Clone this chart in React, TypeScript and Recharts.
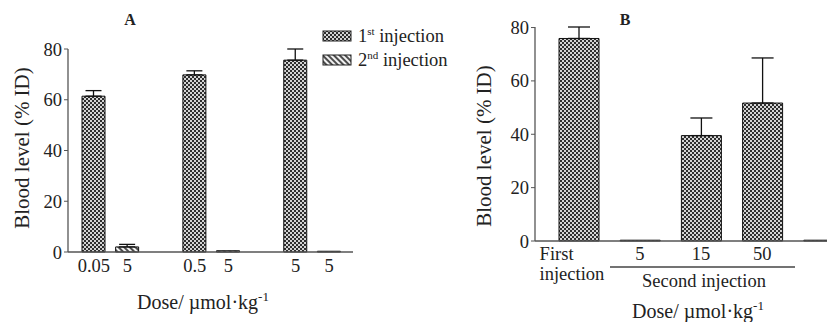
import React from "react";
import { BarChart, Bar, XAxis, YAxis, ErrorBar, Cell } from "recharts";

// Panel A: dose groups (1st / 2nd injection), blank slots separate the groups
const doseLabelsA = ["0.05", "5", "", "0.5", "5", "", "5", "5"];
const meanA = [61.4, 2.0, null, 69.8, 0.5, null, 75.6, 0.3];
const errA = [2.2, 1.0, null, 1.6, null, null, 4.4, null];
const injectionA = [1, 2, 0, 1, 2, 0, 1, 2];

// Panel B: first injection vs second injection doses
const doseLabelsB = ["First\ninjection", "5", "15", "50", ""];
const meanB = [75.9, 0.3, 39.5, 51.7, 0.3];
const errB = [4.3, null, 6.6, 16.9, null];

const yTicks = [0, 20, 40, 60, 80];

const FONT = "'Liberation Serif', 'Times New Roman', serif";
const INK = "#222";
const AXIS = "#555";

const tableA = doseLabelsA.map((label, i) => ({
  key: `a${i}`,
  label,
  value: meanA[i],
  err: errA[i] != null ? [0, errA[i]] : null,
  injection: injectionA[i],
}));

const tableB = doseLabelsB.map((label, i) => ({
  key: `b${i}`,
  label,
  value: meanB[i],
  err: errB[i] != null ? [0, errB[i]] : null,
}));

const tickStyle = { fontFamily: FONT, fontSize: 18.5, fill: INK };

function TickB(props: any) {
  const { x, y, payload } = props;
  const label = tableB.find((d) => d.key === payload.value)?.label ?? "";
  if (label.includes("\n")) {
    const [l1, l2] = label.split("\n");
    return (
      <text x={x - 39} y={y} textAnchor="start" fontFamily={FONT} fontSize={18.5} fill={INK}>
        <tspan x={x - 39} dy="0.71em">{l1}</tspan>
        <tspan x={x - 39} dy="1.05em">{l2}</tspan>
      </text>
    );
  }
  return (
    <text x={x} y={y} dy="0.71em" textAnchor="middle" fontFamily={FONT} fontSize={18.5} fill={INK}>
      {label}
    </text>
  );
}

function DoseTitle({ x, y }: { x: number; y: number }) {
  return (
    <text x={x} y={y} textAnchor="middle" fontFamily={FONT} fontSize={20} fill={INK}>
      Dose/ µmol·kg
      <tspan dy={-8} fontSize={13}>-1</tspan>
    </text>
  );
}

function Overlay() {
  return (
    <svg
      width={827}
      height={322}
      style={{ position: "absolute", left: 0, top: 0, zIndex: 2, pointerEvents: "none" }}
    >
      <defs>
        <pattern id="checker" width={4} height={4} patternUnits="userSpaceOnUse">
          <rect width={4} height={4} fill="#d4d4d4" />
          <rect x={0} y={0} width={2} height={2} fill="#2e2e2e" />
          <rect x={2} y={2} width={2} height={2} fill="#2e2e2e" />
        </pattern>
        <pattern
          id="hatch"
          width={4}
          height={4}
          patternUnits="userSpaceOnUse"
          patternTransform="rotate(-45)"
        >
          <rect width={4} height={4} fill="#f2f2f2" />
          <line x1={1} y1={0} x2={1} y2={4} stroke="#222" strokeWidth={1.6} />
        </pattern>
      </defs>

      {/* panel titles */}
      <text x={130} y={25} textAnchor="middle" fontFamily={FONT} fontWeight="bold" fontSize={16} fill={INK}>
        A
      </text>
      <text x={625} y={25} textAnchor="middle" fontFamily={FONT} fontWeight="bold" fontSize={16} fill={INK}>
        B
      </text>

      {/* y axis titles */}
      <text
        transform="translate(29,148) rotate(-90)"
        textAnchor="middle"
        fontFamily={FONT}
        fontSize={21}
        fill={INK}
      >
        Blood level (% ID)
      </text>
      <text
        transform="translate(491,146) rotate(-90)"
        textAnchor="middle"
        fontFamily={FONT}
        fontSize={21}
        fill={INK}
      >
        Blood level (% ID)
      </text>

      {/* x axis titles */}
      <DoseTitle x={203} y={309} />
      <DoseTitle x={698} y={318} />

      {/* second injection bracket */}
      <line x1={610} y1={267} x2={795} y2={267} stroke="#444" strokeWidth={1.3} />
      <text x={704} y={287} textAnchor="middle" fontFamily={FONT} fontSize={18.5} fill={INK}>
        Second injection
      </text>

      {/* legend */}
      <rect x={323} y={31} width={28} height={10} fill="url(#checker)" stroke="#222" strokeWidth={1} />
      <text x={358} y={42} fontFamily={FONT} fontSize={18.5} fill={INK}>
        1<tspan dy={-7} fontSize={11}>st</tspan>
        <tspan dy={7}> injection</tspan>
      </text>
      <rect x={323} y={55} width={28} height={10} fill="url(#hatch)" stroke="#222" strokeWidth={1} />
      <text x={358} y={66} fontFamily={FONT} fontSize={18.5} fill={INK}>
        2<tspan dy={-7} fontSize={11}>nd</tspan>
        <tspan dy={7}> injection</tspan>
      </text>
    </svg>
  );
}

export default function App() {
  return (
    <div
      style={{
        position: "absolute",
        left: 0,
        top: 0,
        width: 827,
        height: 322,
        overflow: "hidden",
        background: "#fff",
      }}
    >
      <Overlay />

      <div style={{ position: "absolute", left: 0, top: 0 }}>
        <BarChart
          width={380}
          height={322}
          data={tableA}
          margin={{ top: 49, right: 27, bottom: 40, left: 28 }}
          barSize={23}
        >
          <XAxis
            dataKey="key"
            height={30}
            interval={0}
            padding={{ left: 9, right: 7 }}
            tickLine={false}
            tickSize={5}
            tickMargin={2}
            axisLine={{ stroke: AXIS, strokeWidth: 1.3 }}
            tick={tickStyle}
            tickFormatter={(k: string) => tableA.find((d) => d.key === k)?.label ?? ""}
          />
          <YAxis
            width={40}
            domain={[0, 80]}
            ticks={yTicks}
            interval={0}
            tickSize={4}
            tickMargin={2}
            axisLine={{ stroke: AXIS, strokeWidth: 1.3 }}
            tickLine={{ stroke: AXIS }}
            tick={tickStyle}
          />
          <Bar dataKey="value" stroke="#111" strokeWidth={1} isAnimationActive={false}>
            {tableA.map((d) => (
              <Cell key={d.key} fill={d.injection === 2 ? "url(#hatch)" : "url(#checker)"} />
            ))}
            <ErrorBar dataKey="err" width={8} stroke="#111" strokeWidth={1.3} isAnimationActive={false} />
          </Bar>
        </BarChart>
      </div>

      <div style={{ position: "absolute", left: 460, top: 0 }}>
        <BarChart
          width={410}
          height={322}
          data={tableB}
          margin={{ top: 27, right: 6, bottom: 51, left: 35 }}
          barSize={40}
        >
          <XAxis
            dataKey="key"
            height={30}
            interval={0}
            padding={{ left: 13, right: 10 }}
            tickLine={false}
            tickSize={4}
            tickMargin={2}
            axisLine={{ stroke: AXIS, strokeWidth: 1.3 }}
            tick={<TickB />}
          />
          <YAxis
            width={40}
            domain={[0, 80]}
            ticks={yTicks}
            interval={0}
            tickSize={4}
            tickMargin={2}
            axisLine={{ stroke: AXIS, strokeWidth: 1.3 }}
            tickLine={{ stroke: AXIS }}
            tick={tickStyle}
          />
          <Bar dataKey="value" fill="url(#checker)" stroke="#111" strokeWidth={1} isAnimationActive={false}>
            <ErrorBar dataKey="err" width={11} stroke="#111" strokeWidth={1.3} isAnimationActive={false} />
          </Bar>
        </BarChart>
      </div>
    </div>
  );
}
